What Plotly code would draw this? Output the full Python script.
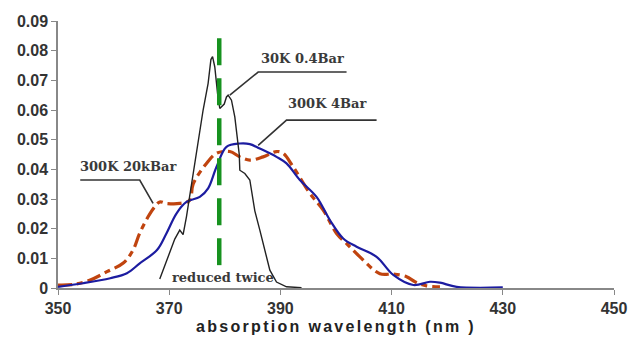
import plotly.graph_objects as go

# ---- data ----
wl_30k = [368.3, 369.5, 371.0, 371.9, 372.5, 373.1, 374.0, 374.9, 375.5, 376.1, 377.0, 377.5, 377.8,
          378.2, 378.7, 379.1, 379.9, 380.3, 380.6, 381.2, 381.8, 382.2, 382.6, 382.7, 383.6, 384.5,
          385.4, 386.3, 387.2, 388.1, 389.3, 391.1, 393.8]
abs_30k = [0.003, 0.009, 0.0165, 0.0195, 0.018, 0.024, 0.035, 0.046, 0.054, 0.060, 0.069, 0.077, 0.078,
           0.0745, 0.0655, 0.0605, 0.062, 0.0644, 0.065, 0.0633, 0.0577, 0.052, 0.045, 0.0397, 0.0386, 0.0364,
           0.026, 0.0195, 0.0128, 0.006, 0.002, 0.0004, 0.0001]

wl_4bar = [350.0, 354.5, 359.4, 362.4, 364.7, 367.8, 369.5, 371.3, 373.1, 375.5, 377.0, 378.5, 380.3,
           382.7, 384.5, 386.3, 389.3, 391.1, 393.5, 396.5, 398.9, 401.3, 403.7, 407.3, 410.3, 413.9,
           416.9, 418.7, 421.7, 430.0]
abs_4bar = [0.0004, 0.0016, 0.0033, 0.005, 0.0083, 0.0128, 0.0184, 0.0251, 0.029, 0.0307, 0.0336, 0.0408, 0.0476,
            0.0487, 0.0485, 0.047, 0.0442, 0.042, 0.0364, 0.0307, 0.0229, 0.0167, 0.0139, 0.0105, 0.0044, 0.001,
            0.0021, 0.0018, 0.0004, 0.0002]

wl_20k = [350.0, 352.8, 355.8, 358.8, 361.8, 363.5, 364.7, 366.2, 367.4, 368.3, 369.5, 371.9, 373.7,
          374.3, 376.7, 378.5, 380.9, 382.7, 384.5, 386.9, 389.3, 390.5, 392.3, 395.3, 397.7, 400.1,
          401.9, 404.3, 407.9, 410.3, 412.7, 414.2, 416.3, 418.7]
abs_20k = [0.001, 0.0012, 0.0027, 0.0055, 0.0085, 0.0128, 0.0185, 0.024, 0.0274, 0.029, 0.0285, 0.0285, 0.0296,
           0.035, 0.042, 0.0454, 0.046, 0.0442, 0.0431, 0.0442, 0.046, 0.0454, 0.0408, 0.0319, 0.0263, 0.0184,
           0.015, 0.0105, 0.0048, 0.0047, 0.0038, 0.0021, 0.0007, 0.0004]

marker_wl = [379.0, 379.0]
marker_abs = [0.0077, 0.0852]

x_ticks = [350, 370, 390, 410, 430, 450]
y_ticks = [0, 0.01, 0.02, 0.03, 0.04, 0.05, 0.06, 0.07, 0.08, 0.09]
y_ticktext = ["0", "0.01", "0.02", "0.03", "0.04", "0.05", "0.06", "0.07", "0.08", "0.09"]
x_title = "absorption wavelength (nm )"

labels = ["30K 0.4Bar", "300K 4Bar", "300K 20kBar", "reduced twice"]
label_x = [393.9, 398.3, 362.6, 379.6]
label_y = [0.0775, 0.0622, 0.0410, 0.0034]
# leader lines: (x0,y0)->(x1,y1)->(x2,y2)
leaders = [
    ([401.9, 386.0, 380.9], [0.0728, 0.0728, 0.0650]),
    ([407.3, 391.1, 386.0], [0.0566, 0.0566, 0.0481]),
    ([354.0, 364.7, 367.1], [0.0364, 0.0364, 0.0285]),
]

fig = go.Figure()

fig.add_trace(go.Scatter(x=wl_20k, y=abs_20k, mode="lines", line_shape="spline",
                         line=dict(color="#c0440f", width=3.2, dash="14px,5px,6px,5px"),
                         showlegend=False))
fig.add_trace(go.Scatter(x=wl_4bar, y=abs_4bar, mode="lines", line_shape="spline",
                         line=dict(color="#1c1ca0", width=2.2), showlegend=False))
fig.add_trace(go.Scatter(x=wl_30k, y=abs_30k, mode="lines",
                         line=dict(color="#222222", width=1.4), showlegend=False))
fig.add_trace(go.Scatter(x=marker_wl, y=marker_abs, mode="lines",
                         line=dict(color="#17921f", width=4.5, dash="27px,13px"), showlegend=False))

for lx, ly in leaders:
    fig.add_trace(go.Scatter(x=lx, y=ly, mode="lines",
                             line=dict(color="#333333", width=1.6), showlegend=False,
                             hoverinfo="skip"))

for t, x, y in zip(labels, label_x, label_y):
    fig.add_annotation(x=x, y=y, text=t, showarrow=False, xanchor="center", yanchor="middle",
                       font=dict(family="DejaVu Serif", size=13, color="#3a3a3a", weight="bold"))

fig.add_annotation(xref="paper", yref="paper", x=0.5, y=-0.143,
                   text='<span style="letter-spacing:2.3px">' + x_title + '</span>',
                   showarrow=False, xanchor="center", yanchor="middle",
                   font=dict(family="Liberation Sans", size=16, color="#222222", weight="bold"))

fig.update_layout(
    width=631, height=338,
    margin=dict(l=58, r=17, t=21, b=50, autoexpand=False),
    paper_bgcolor="white", plot_bgcolor="white",
    xaxis=dict(range=[350, 450], tickvals=x_ticks, ticks="outside", ticklen=5, tickcolor="#888888",
               showline=True, linecolor="#888888", linewidth=1.5, showgrid=False, zeroline=False,
               automargin=False,
               tickfont=dict(family="Liberation Sans", size=16, color="#333333", weight="bold")),
    yaxis=dict(range=[0, 0.09], tickvals=y_ticks, ticktext=y_ticktext, ticks="outside", ticklen=5,
               tickcolor="#888888", showline=True, linecolor="#888888", linewidth=1.5,
               showgrid=False, zeroline=False, automargin=False,
               tickfont=dict(family="Liberation Sans", size=16, color="#333333", weight="bold")),
)

fig.write_html("out.html")
